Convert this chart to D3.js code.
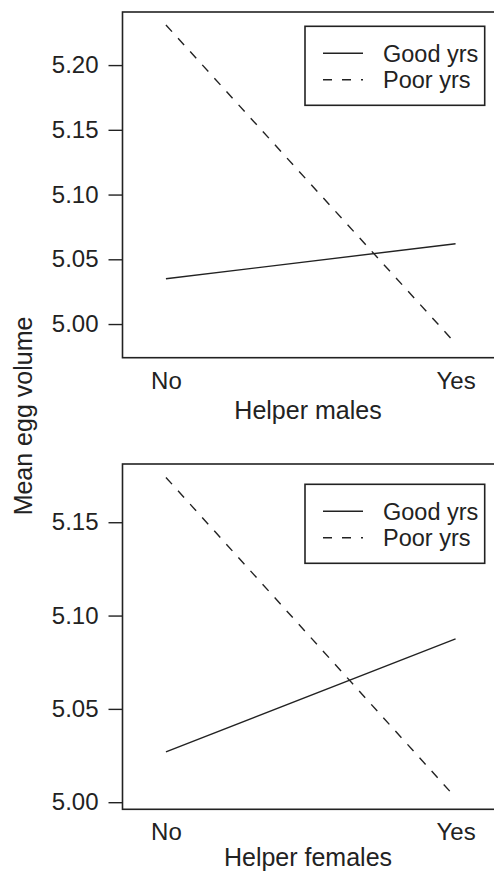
<!DOCTYPE html>
<html>
<head>
<meta charset="utf-8">
<script src="https://cdn.jsdelivr.net/npm/d3@7"></script>
<style>
  body { margin: 0; background: #fff; }
  svg { display: block; }
  text { font-family: "Liberation Sans", Arial, Helvetica, sans-serif; fill: #222; }
</style>
</head>
<body>
<div class="container"></div>
<script>
// categories on the x axis
const helperLevels = ["No", "Yes"];
const seriesNames = ["Good yrs", "Poor yrs"];

// top panel: helper males
const malesGood = [5.035, 5.062];
const malesPoor = [5.231, 4.985];
const malesTicks = [5.00, 5.05, 5.10, 5.15, 5.20];

// bottom panel: helper females
const femalesGood = [5.027, 5.0875];
const femalesPoor = [5.174, 5.0025];
const femalesTicks = [5.00, 5.05, 5.10, 5.15];

const W = 494, H = 872;
const ink = "#222";

const svg = d3.select("div.container").append("svg")
    .attr("width", W)
    .attr("height", H);

// shared x scale (positions 1,2 with wide padding like the original)
const x = d3.scaleLinear().domain([0.85, 2.15]).range([122.5, 499]);

//panel definitions
const panels = [
    {good: malesGood, poor: malesPoor, ticks: malesTicks, title: "Helper males",
     yDomain: [4.974, 5.241], top: 12, bottom: 357.7, legendTop: 26.3, titleOffset: 61},
    {good: femalesGood, poor: femalesPoor, ticks: femalesTicks, title: "Helper females",
     yDomain: [4.9962, 5.1812], top: 464, bottom: 809.3, legendTop: 484.3, titleOffset: 57}
];

panels.forEach(p => {
    const y = d3.scaleLinear().domain(p.yDomain).range([p.bottom, p.top]);
    const g = svg.append("g");

    // frame
    g.append("rect")
        .attr("x", x.range()[0])
        .attr("y", p.top)
        .attr("width", x.range()[1] - x.range()[0])
        .attr("height", p.bottom - p.top)
        .attr("fill", "none")
        .attr("stroke", ink)
        .attr("stroke-width", 1.6);

    // y axis
    const yAxis = d3.axisLeft(y)
        .tickValues(p.ticks)
        .tickFormat(d3.format(".2f"))
        .tickSize(14)
        .tickPadding(10);
    const ya = g.append("g")
        .attr("transform", `translate(${x.range()[0]},0)`)
        .call(yAxis);
    ya.select(".domain").remove();
    ya.selectAll("line").attr("stroke", ink).attr("stroke-width", 1.4);
    ya.selectAll("text")
        .attr("font-family", null)
        .style("font-size", "24px")
        .attr("fill", ink);

    // x axis labels (no ticks)
    const xa = g.append("g")
        .attr("transform", `translate(0,${p.bottom})`)
        .call(d3.axisBottom(x).tickValues([1, 2]).tickFormat((d, i) => helperLevels[i]).tickSize(0).tickPadding(14));
    xa.select(".domain").remove();
    xa.selectAll("text")
        .attr("font-family", null)
        .style("font-size", "24px")
        .attr("fill", ink);

    // x axis title
    g.append("text")
        .attr("x", 308)
        .attr("y", p.bottom + p.titleOffset)
        .attr("text-anchor", "middle")
        .style("font-size", "25px")
        .text(p.title);

    // data lines
    const line = d3.line().x((d, i) => x(i + 1)).y(d => y(d));
    g.append("path")
        .datum(p.good)
        .attr("d", line)
        .attr("fill", "none")
        .attr("stroke", ink)
        .attr("stroke-width", 1.4);
    g.append("path")
        .datum(p.poor)
        .attr("d", line)
        .attr("fill", "none")
        .attr("stroke", ink)
        .attr("stroke-width", 1.4)
        .attr("stroke-dasharray", "9,9");

    // legend
    const lg = g.append("g").attr("transform", `translate(305,${p.legendTop})`);
    lg.append("rect")
        .attr("width", 179.7)
        .attr("height", 79)
        .attr("fill", "#fff")
        .attr("stroke", ink)
        .attr("stroke-width", 1.6);
    seriesNames.forEach((name, i) => {
        const ly = 27 + i * 26.5;
        lg.append("line")
            .attr("x1", 18).attr("x2", 58)
            .attr("y1", ly).attr("y2", ly)
            .attr("stroke", ink)
            .attr("stroke-width", 1.4)
            .attr("stroke-dasharray", i === 1 ? "9,10" : null);
        lg.append("text")
            .attr("x", 78)
            .attr("y", ly)
            .attr("dy", "0.35em")
            .style("font-size", "23.5px")
            .text(name);
    });
});

// shared y title
svg.append("text")
    .attr("transform", "translate(23,416) rotate(-90)")
    .attr("text-anchor", "middle")
    .attr("dy", "0.35em")
    .style("font-size", "25px")
    .text("Mean egg volume");
</script>
</body>
</html>
